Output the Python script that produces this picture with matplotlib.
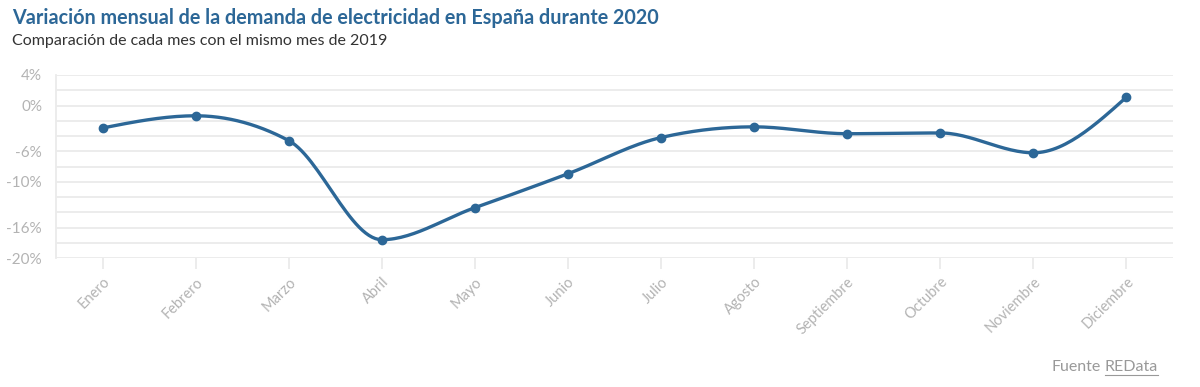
import numpy as np
import matplotlib
matplotlib.use("Agg")
import matplotlib.pyplot as plt

plt.rcParams['font.family'] = ['Lato', 'DejaVu Sans']

meses = ['Enero', 'Febrero', 'Marzo', 'Abril', 'Mayo', 'Junio', 'Julio',
         'Agosto', 'Septiembre', 'Octubre', 'Noviembre', 'Diciembre']
variacion = [-2.95, -1.35, -4.6, -17.6, -13.4, -8.95, -4.2, -2.8, -3.7, -3.6, -6.2, 1.1]
y_ticks = list(range(-20, 5, 2))
y_labels = {4: '4%', 0: '0%', -6: '-6%', -10: '-10%', -16: '-16%', -20: '-20%'}

AZUL = '#2c6797'
GRIS = '#b3b3b3'


def monotone_x(x, y, n=30):
    # curva monótona estilo d3.curveMonotoneX
    x = np.asarray(x, float)
    y = np.asarray(y, float)
    h = np.diff(x)
    s = np.diff(y) / h
    t = np.zeros_like(y)
    for i in range(1, len(y) - 1):
        p = (s[i - 1] * h[i] + s[i] * h[i - 1]) / (h[i - 1] + h[i])
        t[i] = (np.sign(s[i - 1]) + np.sign(s[i])) * min(abs(s[i - 1]), abs(s[i]), 0.5 * abs(p))
    t[0] = (3 * s[0] - t[1]) / 2
    t[-1] = (3 * s[-1] - t[-2]) / 2
    xs, ys = [], []
    for i in range(len(x) - 1):
        u = np.linspace(0, 1, n)
        dx = h[i]
        h00 = 2 * u**3 - 3 * u**2 + 1
        h10 = u**3 - 2 * u**2 + u
        h01 = -2 * u**3 + 3 * u**2
        h11 = u**3 - u**2
        xs.append(x[i] + u * dx)
        ys.append(h00 * y[i] + h10 * dx * t[i] + h01 * y[i + 1] + h11 * dx * t[i + 1])
    return np.concatenate(xs), np.concatenate(ys)


fig = plt.figure(figsize=(12, 3.87), dpi=100)
ax = fig.add_axes([56 / 1200, 1 - 258 / 387, (1173 - 56) / 1200, (258 - 75) / 387])

xpos = np.arange(len(meses))
cx, cy = monotone_x(xpos, variacion)
ax.plot(cx, cy, color=AZUL, lw=2.4, solid_capstyle='round', zorder=3)
ax.plot(xpos, variacion, 'o', color=AZUL, ms=6, zorder=4)

ax.set_xlim(-0.5, 11.5)
ax.set_ylim(-20, 4)
ax.set_yticks(y_ticks)
ax.set_yticklabels([y_labels.get(v, '') for v in y_ticks])
ax.set_xticks(xpos)
ax.set_xticklabels(meses, rotation=45, ha='right', rotation_mode='anchor')

ax.grid(axis='y', color='#ebebeb', lw=1.3)
ax.set_axisbelow(True)
for side in ['top', 'right', 'bottom']:
    ax.spines[side].set_visible(False)
ax.spines['left'].set_color('#ebebeb')
ax.spines['left'].set_linewidth(1.3)
ax.tick_params(axis='y', length=0, pad=10, labelsize=11, labelcolor=GRIS)
ax.tick_params(axis='x', length=8, width=1.3, color='#ebebeb', pad=4,
               labelsize=10.5, labelcolor=GRIS)

fig.text(12 / 1200, 1 - 18 / 387, 'Variación mensual de la demanda de electricidad en España durante 2020',
         fontsize=14.2, fontweight='bold', color=AZUL, va='center')
fig.text(12 / 1200, 1 - 41 / 387, 'Comparación de cada mes con el mismo mes de 2019',
         fontsize=11.5, color='#333333', va='center')

t1 = fig.text(1 - 42 / 1200, 1 - 367 / 387, 'REData', fontsize=11.5, color='#999999',
              ha='right', va='center')
fig.canvas.draw()
bb = t1.get_window_extent()
fig.text(bb.x0 / 1200 - 4 / 1200, 1 - 367 / 387, 'Fuente', fontsize=11.5, color='#999999',
         ha='right', va='center')
fig.add_artist(plt.Line2D([bb.x0 / 1200, bb.x1 / 1200], [bb.y0 / 387 - 1 / 387] * 2,
                          color='#999999', lw=0.8))

fig.savefig('out.png', dpi=100)
